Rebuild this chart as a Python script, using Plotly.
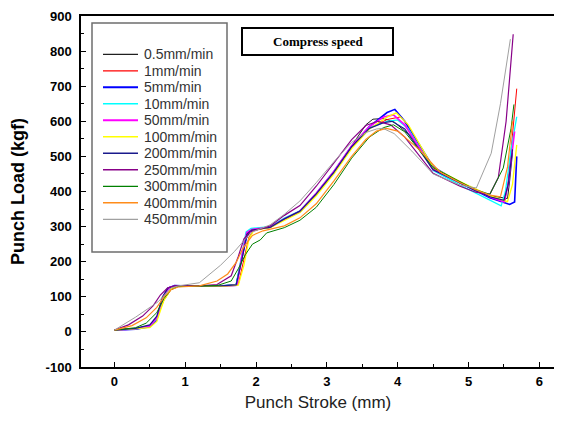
import plotly.graph_objects as go

# ---- data ----
speed_labels = ["0.5mm/min", "1mm/min", "5mm/min", "10mm/min", "50mm/min", "100mm/min",
                "200mm/min", "250mm/min", "300mm/min", "400mm/min", "450mm/min"]

stroke_05 = [0, 0.3, 0.5, 0.6, 0.68, 0.75, 0.85, 1.2, 1.5, 1.72, 1.78, 1.85, 1.92, 2.2, 2.4, 2.62, 2.85, 3.1, 3.35, 3.55, 3.65, 3.8, 3.95, 4.2, 4.5, 4.88, 5.1, 5.3, 5.55, 5.58, 5.62]
load_05 = [5, 10, 18, 40, 95, 125, 130, 130, 131, 135, 190, 260, 288, 298, 322, 345, 395, 458, 530, 590, 606, 608, 598, 555, 462, 425, 405, 388, 380, 430, 510]

stroke_1 = [0, 0.3, 0.5, 0.6, 0.7, 0.8, 0.9, 1.2, 1.5, 1.75, 1.82, 1.9, 1.97, 2.2, 2.4, 2.62, 2.85, 3.1, 3.35, 3.6, 3.85, 4.05, 4.2, 4.5, 4.88, 5.1, 5.3, 5.51, 5.56, 5.62, 5.68]
load_1 = [5, 10, 18, 40, 90, 120, 130, 130, 130, 135, 200, 270, 290, 298, 320, 342, 390, 452, 525, 580, 605, 613, 570, 465, 425, 405, 385, 368, 430, 560, 693]

stroke_5 = [0, 0.3, 0.5, 0.6, 0.68, 0.76, 0.85, 1.2, 1.5, 1.72, 1.8, 1.88, 1.95, 2.2, 2.4, 2.62, 2.85, 3.1, 3.35, 3.6, 3.85, 3.96, 4.1, 4.5, 4.88, 5.1, 5.3, 5.58, 5.65, 5.68]
load_5 = [5, 8, 15, 35, 95, 125, 132, 130, 131, 133, 210, 282, 292, 298, 322, 342, 392, 455, 528, 585, 625, 634, 600, 470, 425, 402, 382, 363, 370, 500]

stroke_10 = [0, 0.3, 0.5, 0.6, 0.7, 0.78, 0.88, 1.2, 1.5, 1.72, 1.8, 1.86, 1.93, 2.2, 2.4, 2.62, 2.85, 3.1, 3.35, 3.6, 3.85, 4.0, 4.15, 4.5, 4.88, 5.1, 5.3, 5.46, 5.52, 5.6, 5.68]
load_10 = [5, 9, 17, 38, 100, 128, 132, 130, 131, 134, 220, 285, 295, 300, 324, 345, 395, 458, 530, 582, 600, 604, 578, 460, 418, 395, 375, 359, 400, 520, 613]

stroke_50 = [0, 0.3, 0.5, 0.6, 0.7, 0.78, 0.88, 1.2, 1.5, 1.73, 1.8, 1.87, 1.94, 2.2, 2.4, 2.62, 2.85, 3.1, 3.35, 3.6, 3.8, 3.94, 4.1, 4.5, 4.88, 5.1, 5.3, 5.5, 5.56, 5.65]
load_50 = [5, 9, 17, 40, 105, 127, 131, 130, 130, 133, 215, 283, 292, 298, 322, 344, 395, 458, 530, 585, 612, 618, 590, 462, 425, 403, 385, 370, 420, 571]

stroke_100 = [0, 0.3, 0.5, 0.6, 0.7, 0.8, 0.9, 1.2, 1.5, 1.75, 1.83, 1.9, 1.97, 2.2, 2.4, 2.62, 2.85, 3.1, 3.35, 3.6, 3.85, 3.98, 4.15, 4.5, 4.88, 5.1, 5.3, 5.55, 5.62, 5.68]
load_100 = [5, 8, 12, 30, 90, 122, 130, 130, 130, 133, 190, 265, 290, 297, 318, 340, 388, 450, 522, 578, 612, 624, 590, 468, 428, 406, 388, 371, 420, 533]

stroke_200 = [0, 0.3, 0.5, 0.6, 0.68, 0.76, 0.86, 1.2, 1.5, 1.72, 1.8, 1.87, 1.94, 2.2, 2.4, 2.62, 2.85, 3.1, 3.35, 3.6, 3.8, 3.92, 4.1, 4.5, 4.88, 5.1, 5.3, 5.5, 5.56, 5.62]
load_200 = [5, 10, 20, 45, 100, 125, 131, 130, 131, 134, 205, 278, 290, 298, 322, 344, 393, 455, 528, 580, 596, 600, 578, 462, 424, 402, 385, 375, 420, 520]

stroke_250 = [0, 0.2, 0.4, 0.55, 0.65, 0.75, 0.85, 1.2, 1.45, 1.65, 1.75, 1.83, 1.92, 2.2, 2.4, 2.62, 2.85, 3.1, 3.35, 3.55, 3.72, 3.9, 4.1, 4.5, 4.88, 5.1, 5.3, 5.42, 5.53, 5.63]
load_250 = [5, 20, 45, 75, 105, 125, 131, 131, 135, 160, 215, 265, 285, 302, 332, 360, 415, 480, 548, 588, 600, 590, 555, 452, 415, 398, 392, 440, 600, 848]

stroke_300 = [0, 0.3, 0.45, 0.6, 0.7, 0.8, 0.9, 1.2, 1.45, 1.65, 1.75, 1.85, 1.95, 2.06, 2.15, 2.4, 2.62, 2.85, 3.1, 3.35, 3.6, 3.8, 3.94, 4.1, 4.5, 4.88, 5.1, 5.3, 5.49, 5.6, 5.64]
load_300 = [5, 12, 25, 55, 95, 120, 129, 130, 132, 145, 180, 220, 250, 262, 282, 297, 318, 355, 420, 495, 555, 582, 590, 570, 468, 428, 405, 392, 467, 580, 648]

stroke_400 = [0, 0.25, 0.45, 0.6, 0.7, 0.8, 0.9, 1.2, 1.45, 1.6, 1.72, 1.82, 1.95, 2.1, 2.4, 2.62, 2.85, 3.1, 3.35, 3.55, 3.7, 3.84, 4.0, 4.3, 4.6, 4.88, 5.1, 5.3, 5.45, 5.55, 5.62]
load_400 = [5, 18, 40, 70, 100, 120, 128, 131, 145, 165, 198, 240, 275, 288, 302, 325, 365, 430, 500, 548, 572, 580, 572, 520, 455, 425, 405, 390, 385, 470, 600]

stroke_450 = [0, 0.3, 0.62, 0.8, 0.9, 1.2, 1.5, 1.7, 1.85, 1.95, 2.2, 2.4, 2.62, 2.85, 3.1, 3.35, 3.55, 3.7, 3.79, 3.95, 4.2, 4.5, 4.88, 5.11, 5.32, 5.45, 5.59]
load_450 = [5, 42, 86, 125, 131, 140, 190, 230, 265, 285, 305, 335, 373, 425, 485, 540, 568, 578, 580, 565, 515, 450, 418, 410, 509, 650, 834]

x_ticks = [0, 1, 2, 3, 4, 5, 6]
y_ticks = [-100, 0, 100, 200, 300, 400, 500, 600, 700, 800, 900]
y_tick_text = ["-100", "0", "100", "200", "300", "400", "500", "600", "700", "800", "900"]

strokes = [stroke_05, stroke_1, stroke_5, stroke_10, stroke_50, stroke_100,
           stroke_200, stroke_250, stroke_300, stroke_400, stroke_450]
loads = [load_05, load_1, load_5, load_10, load_50, load_100,
         load_200, load_250, load_300, load_400, load_450]
colors = ["#202020", "#FF0000", "#0000FF", "#00FFFF", "#FF00FF", "#FFFF00",
          "#1A1A8C", "#880088", "#008000", "#FF8C1A", "#A0A0A0"]
widths = [1, 1, 1.6, 1.3, 1.6, 1.3, 1.2, 1.2, 1, 1.2, 1]

fig = go.Figure()
for lab, xs, ys, c, w in zip(speed_labels, strokes, loads, colors, widths):
    fig.add_trace(go.Scatter(x=xs, y=ys, mode="lines", name=lab, showlegend=False,
                             line=dict(color=c, width=w)))

# page has an 8px body margin; plot area targeted at page x 81..555, y 16..367
W, H = 562, 423
L, R, T, B = 73, 15, 8, 64
PL, PT, PW, PH = 81, 16, 474, 351

def px(xp):
    return (xp - PL) / PW

def py(yp):
    return (PT + PH - yp) / PH

font_sans = "Arial, Liberation Sans"
axis_common = dict(showline=True, linecolor="black", linewidth=1.5, mirror=True,
                   ticks="inside", ticklen=5, tickcolor="black", tickwidth=1,
                   showgrid=False, zeroline=False, automargin=False,
                   ticklabeloverflow="allow",
                   tickfont=dict(family=font_sans, size=13, color="black", weight="bold"))

shapes = [dict(type="rect", xref="paper", yref="paper",
               x0=px(92), x1=px(227), y0=py(252), y1=py(23),
               line=dict(color="#6E6E6E", width=1.5), layer="above"),
          dict(type="rect", xref="paper", yref="paper",
               x0=px(242), x1=px(393), y0=py(55), y1=py(28),
               line=dict(color="black", width=2), layer="above")]
annotations = [dict(text="<b>Compress speed</b>", xref="paper", yref="paper",
                    x=px(317.5), y=py(41.5), xanchor="center", yanchor="middle",
                    showarrow=False,
                    font=dict(family="Times New Roman, Liberation Serif", size=13, color="black"))]

# legend (drawn manually to match compact row spacing)
for i, (lab, c, w) in enumerate(zip(speed_labels, colors, widths)):
    yy = py(54.3 + 16.5 * i)
    shapes.append(dict(type="line", xref="paper", yref="paper",
                       x0=px(103), x1=px(138), y0=yy, y1=yy,
                       line=dict(color=c, width=w + 0.3), layer="above"))
    annotations.append(dict(text=lab, xref="paper", yref="paper",
                            x=px(142), y=yy, xanchor="left", yanchor="middle",
                            showarrow=False,
                            font=dict(family=font_sans, size=14, color="#333")))

fig.update_layout(
    width=W, height=H,
    margin=dict(l=L, r=R, t=T, b=B),
    paper_bgcolor="white", plot_bgcolor="white",
    showlegend=False,
    xaxis=dict(range=[-0.47, 6.22], tickvals=x_ticks, ticklabelstandoff=2,
               minor=dict(dtick=0.5, ticks="inside", ticklen=3, tickcolor="black"),
               title=dict(text="Punch Stroke (mm)", standoff=8,
                          font=dict(family=font_sans, size=17, color="#222")),
               **axis_common),
    yaxis=dict(range=[-100, 900], tickvals=y_ticks, ticktext=y_tick_text, ticklabelstandoff=5,
               minor=dict(dtick=50, ticks="inside", ticklen=3, tickcolor="black"),
               title=dict(text="Punch Load (kgf)", standoff=16,
                          font=dict(family=font_sans, size=18, color="black", weight="bold")),
               **axis_common),
    shapes=shapes,
    annotations=annotations,
)

fig.write_html("out.html")
